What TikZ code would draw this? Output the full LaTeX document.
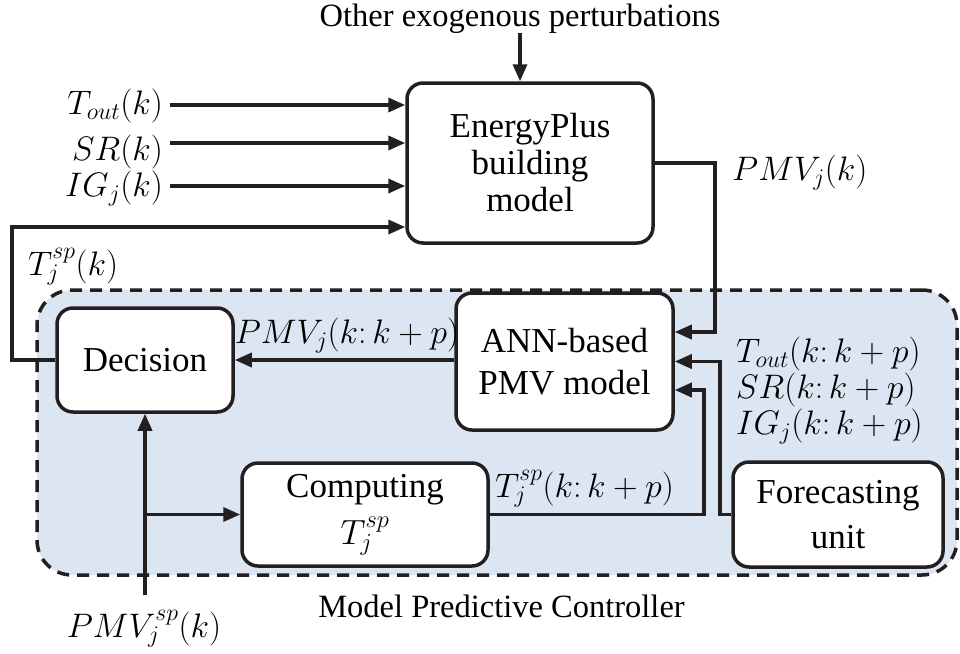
\documentclass[tikz,border=0pt]{standalone}
\usepackage{fix-cm}
\usepackage{fontspec}
\setmainfont{Liberation Serif}
\usetikzlibrary{arrows.meta,calc}
\definecolor{ln}{HTML}{231F20}
\definecolor{mpcfill}{HTML}{DCE6F2}
\tikzset{
 box/.style={draw=ln, line width=3.5pt, rounded corners=16pt, fill=white, align=center, inner sep=0pt, font=\fontsize{35}{42}\selectfont},
 arr/.style={draw=ln, line width=3.5pt, -{Triangle[length=17pt,width=14pt]}},
 lbl/.style={inner sep=0pt, font=\fontsize{34}{38}\selectfont},
 txt/.style={inner sep=0pt, font=\fontsize{32.5}{36}\selectfont},
}
\begin{document}
\begin{tikzpicture}[x=1pt,y=-1pt]
\useasboundingbox (0,0) rectangle (960,653);
\fill[white] (0,0) rectangle (960,653);
% MPC region
\node[draw=ln, fill=mpcfill, line width=3.5pt, dash pattern=on 12pt off 8pt, rounded corners=35pt,
  minimum width=920pt, minimum height=285pt, inner sep=0pt] (mpc) at (497,432.5) {};
% boxes
\node[box, minimum width=246pt, minimum height=160pt, font=\fontsize{35}{37}\selectfont] (ep) at (530,163) {EnergyPlus\\building\\model};
\node[box, minimum width=217pt, minimum height=137pt] (ann) at (564.5,361.5) {ANN-based\\PMV model};
\node[box, minimum width=176pt, minimum height=104pt] (dec) at (145,360) {Decision};
\node[box, minimum width=246pt, minimum height=103pt, font=\fontsize{35}{47}\selectfont] (comp) at (365,514.5) {Computing\\$T_j^{sp}$};
\node[box, minimum width=210pt, minimum height=105pt, font=\fontsize{35}{45}\selectfont] (fore) at (838,514.5) {Forecasting\\unit};
% texts
\node[txt, anchor=base] (oth) at (520,27) {Other exogenous perturbations};
\node[txt, anchor=base] (mpclbl) at (501.5,617) {Model Predictive Controller};
\node[lbl, anchor=base east] (l1) at (163,114) {$T_{out}(k)$};
\node[lbl, anchor=base east] (l2) at (163,160) {$SR(k)$};
\node[lbl, anchor=base east] (l3) at (163,196) {$IG_j(k)$};
\node[lbl, anchor=base west] (l4) at (28,275) {$T_j^{sp}(k)$};
\node[lbl, anchor=base west] (l5) at (732,180) {$PMV_j(k)$};
\node[lbl, anchor=base] (l6) at (347,343) {$PMV_j(k\colon k+p)$};
\node[lbl, anchor=north west, align=left, font=\fontsize{34}{36}\selectfont] (l7) at (736,337)
  {$T_{out}(k\colon k+p)$\\$SR(k\colon k+p)$\\$IG_j(k\colon k+p)$};
\node[lbl, anchor=base west] (l10) at (495,497) {$T_j^{sp}(k\colon k+p)$};
\node[lbl, anchor=base] (l11) at (144,637) {$PMV_j^{sp}(k)$};
% coordinates
\coordinate (o1) at (520,33);
\coordinate (s1) at (170,105);
\coordinate (s2) at (170,143);
\coordinate (s3) at (170,186);
\coordinate (fb) at (12,227);
\coordinate (p1) at (715,332);
\coordinate (f1) at (720,361.5);
\coordinate (c1) at (704,390);
\coordinate (ps) at (145,595);
\coordinate (br) at (145,514.5);
% connectors
\draw[arr] (o1) -- (o1 |- ep.north);
\draw[arr] (s1) -- (s1 -| ep.west);
\draw[arr] (s2) -- (s2 -| ep.west);
\draw[arr] (s3) -- (s3 -| ep.west);
\draw[arr] (dec.west) -| (fb) -- (fb -| ep.west);
\draw[arr] (ep.east) -| (p1) -- (p1 -| ann.east);
\draw[arr] (ann.west |- dec.east) -- (dec.east);
\draw[arr] (fore.west) -| (f1) -- (f1 -| ann.east);
\draw[arr] (comp.east) -| (c1) -- (c1 -| ann.east);
\draw[arr] (ps) -- (dec.south);
\draw[arr] (br) -- (comp.west);
\end{tikzpicture}
\end{document}
